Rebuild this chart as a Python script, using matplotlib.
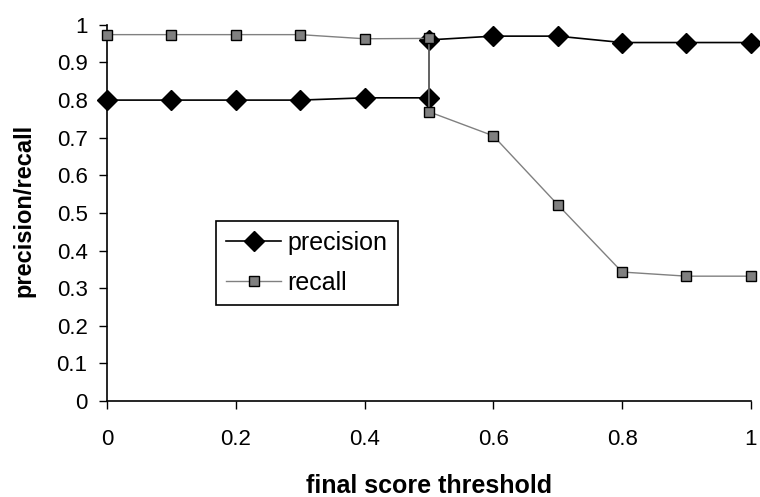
import matplotlib
matplotlib.use("Agg")
from matplotlib import pyplot as plt

plt.rcParams['font.family'] = ['Liberation Sans', 'DejaVu Sans']

# threshold 0.5 appears twice: the curves jump there
thresholds = [0, 0.1, 0.2, 0.3, 0.4, 0.5, 0.5, 0.6, 0.7, 0.8, 0.9, 1.0]
precision = [0.80, 0.80, 0.80, 0.80, 0.806, 0.806, 0.96, 0.97, 0.97, 0.953, 0.953, 0.953]
recall = [0.974, 0.974, 0.974, 0.974, 0.963, 0.964, 0.769, 0.705, 0.522, 0.343, 0.332, 0.332]

fig = plt.figure(figsize=(7.6, 4.97), dpi=100)
ax = fig.add_axes([0.1408, 0.193, 0.8472, 0.757])

ax.plot(thresholds, precision, color='black', lw=1.2, marker='D', ms=10,
        mfc='black', mec='black', label='precision', zorder=3, clip_on=False)
ax.plot(thresholds, recall, color='#808080', lw=1.0, marker='s', ms=7,
        mfc='#808080', mec='black', mew=1.0, label='recall', zorder=4, clip_on=False)

ax.set_xlim(0, 1)
ax.set_ylim(0, 1)
ax.set_xticks([0, 0.2, 0.4, 0.6, 0.8, 1])
ax.set_xticklabels(['0', '0.2', '0.4', '0.6', '0.8', '1'])
ax.set_yticks([i / 10 for i in range(11)])
ax.set_yticklabels(['0'] + ['%.1f' % (i / 10) for i in range(1, 10)] + ['1'])
ax.tick_params(direction='out', length=6, width=1, labelsize=16, colors='black')
ax.tick_params(axis='x', pad=14)
ax.tick_params(axis='y', pad=8)
ax.spines['top'].set_visible(False)
ax.spines['right'].set_visible(False)
for s in ['left', 'bottom']:
    ax.spines[s].set_linewidth(1.2)

ax.set_xlabel('final score threshold', fontsize=18, fontweight='bold')
ax.set_ylabel('precision/recall', fontsize=17, fontweight='bold')
ax.xaxis.set_label_coords(0.5, -0.226)
ax.xaxis.label.set_va('center')
ax.yaxis.set_label_coords(-0.129, 0.508)
ax.yaxis.label.set_va('center')

leg = ax.legend(loc='upper left', bbox_to_anchor=(0.17, 0.479), borderaxespad=0,
                fontsize=18, frameon=True, fancybox=False, edgecolor='black',
                handlelength=2.2, handletextpad=0.25, labelspacing=0.65,
                borderpad=0.4, framealpha=1)
leg.get_frame().set_linewidth(1.2)

fig.savefig('out.png', dpi=100)
